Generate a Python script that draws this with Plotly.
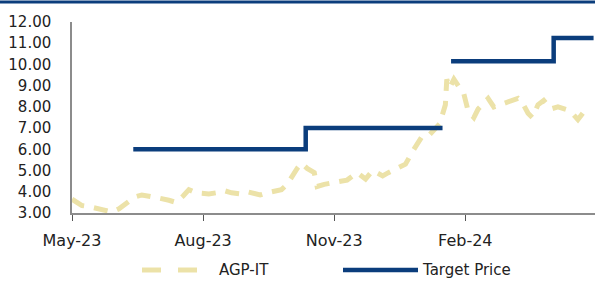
import plotly.graph_objects as go

# AGP-IT price series
price_dates = [
    "2023-05-01", "2023-05-05", "2023-05-08", "2023-05-13", "2023-05-20", "2023-05-25", "2023-05-29",
    "2023-06-03", "2023-06-09", "2023-06-14", "2023-06-19", "2023-06-24", "2023-07-01", "2023-07-08",
    "2023-07-13", "2023-07-18", "2023-07-22", "2023-07-27", "2023-08-01", "2023-08-05", "2023-08-10",
    "2023-08-16", "2023-08-21", "2023-08-27", "2023-09-01", "2023-09-05", "2023-09-10", "2023-09-15",
    "2023-09-20", "2023-09-25", "2023-09-29", "2023-10-02", "2023-10-06", "2023-10-09", "2023-10-13",
    "2023-10-18", "2023-10-20", "2023-10-25", "2023-10-30", "2023-11-05", "2023-11-10", "2023-11-17",
    "2023-11-23", "2023-11-28", "2023-12-05", "2023-12-09", "2023-12-12", "2023-12-21", "2023-12-26",
    "2023-12-30", "2024-01-02", "2024-01-07", "2024-01-14", "2024-01-18", "2024-01-19", "2024-01-21",
    "2024-01-24", "2024-01-27", "2024-01-31", "2024-02-03", "2024-02-07", "2024-02-10", "2024-02-13",
    "2024-02-17", "2024-02-21", "2024-02-26", "2024-03-02", "2024-03-09", "2024-03-12", "2024-03-16",
    "2024-03-19", "2024-03-23", "2024-03-27", "2024-04-01", "2024-04-06", "2024-04-09", "2024-04-13",
    "2024-04-16", "2024-04-20", "2024-04-24",
]
price_values = [
    3.65, 3.45, 3.35, 3.30, 3.20, 3.10, 3.05,
    3.20, 3.50, 3.75, 3.85, 3.80, 3.70, 3.60,
    3.50, 3.80, 4.10, 3.95, 3.90, 3.90, 3.95,
    4.05, 3.95, 3.90, 4.00, 3.95, 3.85, 3.95,
    4.00, 4.10, 4.35, 4.70, 5.10, 5.35, 5.10,
    4.90, 4.25, 4.35, 4.40, 4.50, 4.55, 4.90,
    4.60, 5.00, 4.75, 4.90, 5.00, 5.30, 5.90,
    6.30, 6.65, 6.70, 7.20, 8.10, 9.30, 8.90,
    9.30, 9.00, 8.60, 7.80, 7.50, 7.90, 8.10,
    8.40, 8.00, 8.10, 8.20, 8.40, 8.20, 7.70,
    7.50, 8.10, 8.30, 7.90, 8.00, 7.95, 7.85,
    7.70, 7.40, 7.75,
]

# Target price (step changes, gap between the two periods)
target_dates = ["2023-06-13", "2023-10-12", "2024-01-16", "2024-01-19", "2024-01-22", "2024-04-03", "2024-05-01"]
target_values = [6.00, 7.00, 7.00, None, 10.15, 11.25, 11.25]

tick_dates = ["2023-05-01", "2023-08-01", "2023-11-01", "2024-02-01"]
tick_labels = ["May-23", "Aug-23", "Nov-23", "Feb-24"]
y_ticks = [3, 4, 5, 6, 7, 8, 9, 10, 11, 12]
series_names = ["AGP-IT", "Target Price"]

NAVY = "#0B3D7C"
BEIGE = "#ECE2A8"
FONT = "DejaVu Sans"
W, H = 595, 281
ML, MR, MT, MB = 72, 0, 22, 68
PW, PH = W - ML - MR, H - MT - MB


def px_x(px):
    return (px - ML) / PW


def px_y(py):
    return (H - MB - py) / PH


fig = go.Figure()
fig.add_trace(go.Scatter(
    x=price_dates, y=price_values, mode="lines", name=series_names[0],
    line=dict(color=BEIGE, width=5, dash="14px,10px"), showlegend=False,
))
fig.add_trace(go.Scatter(
    x=target_dates, y=target_values, mode="lines", name=series_names[1],
    line=dict(color=NAVY, width=4.5, shape="hv"), connectgaps=False, showlegend=False,
))

shapes = [
    # top border line
    dict(type="line", xref="paper", yref="paper", x0=px_x(0), x1=px_x(W), y0=px_y(2), y1=px_y(2),
         line=dict(color=NAVY, width=3)),
    # legend symbols
    dict(type="line", xref="paper", yref="paper", x0=px_x(142), x1=px_x(161), y0=px_y(270), y1=px_y(270),
         line=dict(color=BEIGE, width=5)),
    dict(type="line", xref="paper", yref="paper", x0=px_x(178), x1=px_x(197), y0=px_y(270), y1=px_y(270),
         line=dict(color=BEIGE, width=5)),
    dict(type="line", xref="paper", yref="paper", x0=px_x(343), x1=px_x(418), y0=px_y(270), y1=px_y(270),
         line=dict(color=NAVY, width=4.5)),
]
annotations = [
    dict(text=series_names[0], xref="paper", yref="paper", x=px_x(217), y=px_y(270),
         xanchor="left", yanchor="middle", showarrow=False, font=dict(size=15)),
    dict(text=series_names[1], xref="paper", yref="paper", x=px_x(420), y=px_y(270),
         xanchor="left", yanchor="middle", showarrow=False, font=dict(size=15)),
]

fig.update_layout(
    width=W, height=H,
    margin=dict(l=ML, r=MR, t=MT, b=MB),
    paper_bgcolor="white", plot_bgcolor="white",
    font=dict(family=FONT, size=14, color="#222222"),
    showlegend=False,
    xaxis=dict(
        type="date", range=["2023-05-01", "2024-05-02"],
        tickvals=tick_dates, ticktext=tick_labels,
        showgrid=False, zeroline=False,
        showline=True, linecolor="#8c8c8c", linewidth=1.5,
        ticks="outside", ticklen=6, tickcolor="#555555", tickwidth=1.2,
        ticklabelstandoff=6,
        tickfont=dict(size=16),
    ),
    yaxis=dict(
        range=[3, 12], tickvals=y_ticks, tickformat=".2f",
        showgrid=False, zeroline=False,
        showline=True, linecolor="#8c8c8c", linewidth=1.5,
        ticks="", ticklabelstandoff=16,
        tickfont=dict(size=15),
    ),
    shapes=shapes,
    annotations=annotations,
)

fig.write_html("out.html", post_script="document.body.style.margin='0';",
               config={"displayModeBar": False})
